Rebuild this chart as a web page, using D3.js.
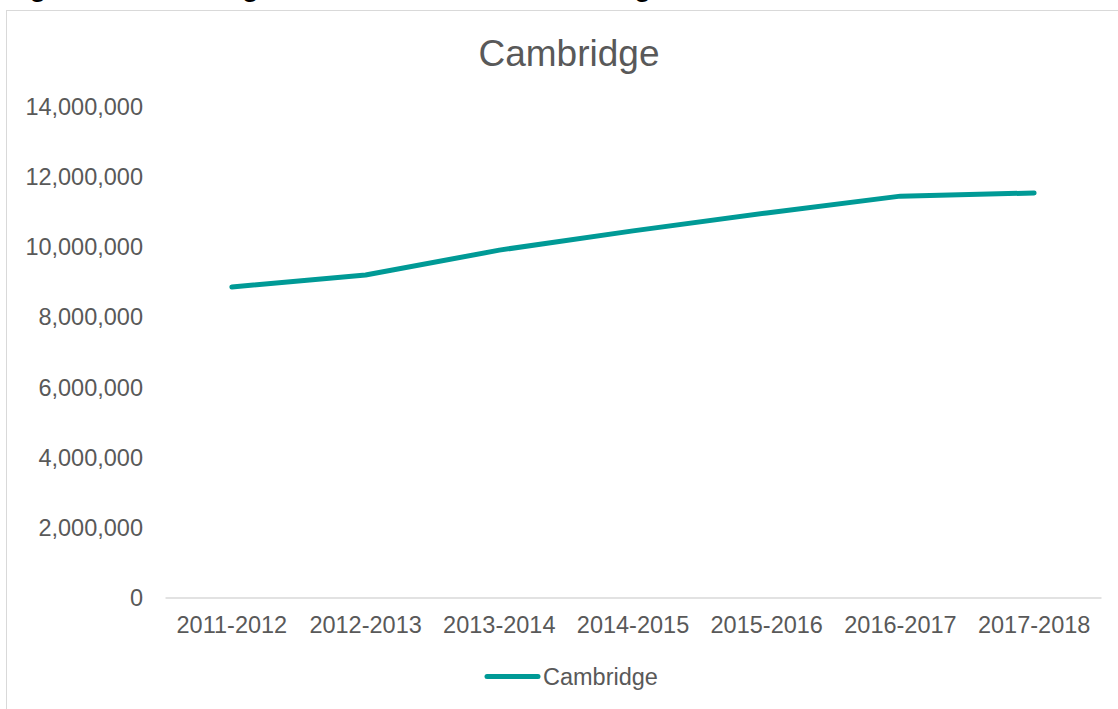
<!DOCTYPE html>
<html>
<head>
<meta charset="utf-8">
<script src="https://cdn.jsdelivr.net/npm/d3@7"></script>
<style>
  html, body { margin: 0; padding: 0; background: #ffffff; }
  svg { display: block; }
  text { font-family: "Liberation Sans", Arial, sans-serif; }
</style>
</head>
<body>
<svg id="chart" width="1118" height="709"></svg>
<script>
const categories = ["2011-2012", "2012-2013", "2013-2014", "2014-2015", "2015-2016", "2016-2017", "2017-2018"];
const seriesName = "Cambridge";
const values = [8840000, 9180000, 9890000, 10440000, 10950000, 11430000, 11520000];
const yTicks = [0, 2000000, 4000000, 6000000, 8000000, 10000000, 12000000, 14000000];
const captionText = "Figure 12: Passenger entries & exits at Cambridge station";

const svg = d3.select("#chart");
const textColor = "#595959";
const lineColor = "#009a96";

// caption above the chart frame, cut off by the top edge as in the reference
svg.append("text")
  .attr("x", 5).attr("y", -4.5)
  .attr("font-size", 27.7).attr("font-weight", "bold").attr("fill", "#000")
  .text(captionText);

// chart frame
svg.append("rect")
  .attr("x", 6.5).attr("y", 10.5).attr("width", 1140).attr("height", 720)
  .attr("fill", "#fff").attr("stroke", "#d9d9d9").attr("stroke-width", 1);

const x = d3.scaleBand().domain(categories).range([165, 1101]);
const y = d3.scaleLinear().domain([0, 14000000]).range([597, 106]);

// title
svg.append("text")
  .attr("x", 569).attr("y", 66).attr("text-anchor", "middle")
  .attr("font-size", 37).attr("fill", textColor)
  .text(seriesName);

// y axis (labels only)
const yAxis = svg.append("g").attr("transform", "translate(165,0)")
  .call(d3.axisLeft(y).tickValues(yTicks).tickFormat(d3.format(",")).tickSize(0).tickPadding(22));
yAxis.select(".domain").remove();
yAxis.selectAll("text").attr("font-size", 23.5).attr("fill", textColor)
  .attr("font-family", "'Liberation Sans', Arial, sans-serif").attr("dy", "0.36em");

// x axis
const xAxis = svg.append("g").attr("transform", "translate(0,597.5)")
  .call(d3.axisBottom(x).tickSize(0).tickPadding(19));
xAxis.select(".domain").attr("stroke", "#d9d9d9").attr("stroke-width", 1.5);
xAxis.selectAll("text").attr("font-size", 23.5).attr("fill", textColor)
  .attr("font-family", "'Liberation Sans', Arial, sans-serif");

// line
const line = d3.line()
  .x((d, i) => x(categories[i]) + x.bandwidth() / 2)
  .y(d => y(d));
svg.append("path")
  .datum(values)
  .attr("d", line)
  .attr("fill", "none")
  .attr("stroke", lineColor)
  .attr("stroke-width", 5)
  .attr("stroke-linecap", "round")
  .attr("stroke-linejoin", "round");

// legend
svg.append("line")
  .attr("x1", 487).attr("x2", 538).attr("y1", 676.5).attr("y2", 676.5)
  .attr("stroke", lineColor).attr("stroke-width", 5).attr("stroke-linecap", "round");
svg.append("text")
  .attr("x", 543).attr("y", 684.5)
  .attr("font-size", 23.5).attr("fill", textColor)
  .text(seriesName);
</script>
</body>
</html>
